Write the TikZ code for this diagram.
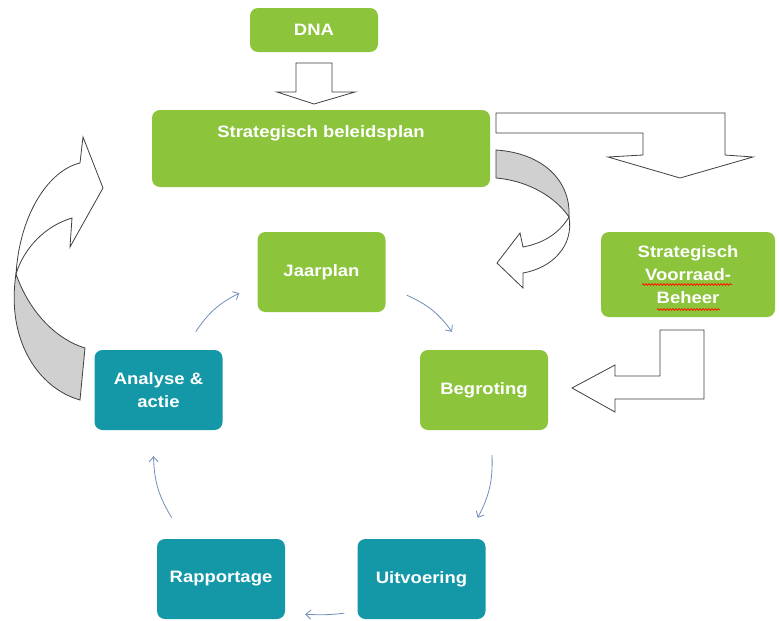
\documentclass[tikz,border=0pt]{standalone}
\usepackage{fontspec}
\setmainfont{Liberation Sans}[FakeStretch=1.12]
\usetikzlibrary{arrows.meta,decorations.pathmorphing}
\definecolor{leaf}{RGB}{140,196,60}
\definecolor{lagoon}{RGB}{20,152,168}
\definecolor{flowblue}{RGB}{112,142,186}
\definecolor{ribbon}{RGB}{208,208,208}
\begin{document}
\begin{tikzpicture}[x=1pt,y=-1pt]
  \clip (0,0) rectangle (779,621);
  \fill[white] (0,0) rectangle (779,621);
  % the boxes
  \begin{scope}[every node/.style={rounded corners=8pt,text=white,align=center,
      font=\fontsize{16.5}{23}\selectfont\bfseries,minimum width=128pt,minimum height=80pt}]
    \node[fill=leaf,minimum height=44pt] (dna) at (314,30) {DNA};
    \node[fill=leaf,minimum width=338pt,minimum height=0pt,inner sep=15pt,
      text height=12pt,text depth=35pt] (plan) at (321,148.5) {Strategisch beleidsplan};
    \node[fill=leaf] (jaar) at (321.5,272) {Jaarplan};
    \node[fill=leaf,minimum width=174pt,minimum height=85pt] (svb) at (688,274.5)
      {Strategisch\\Voorraad-\\Beheer};
    \node[fill=leaf] (beg) at (484,390) {Begroting};
    \node[fill=lagoon] (ana) at (158.5,390) {Analyse \&\\actie};
    \node[fill=lagoon] (rap) at (221,579) {Rapportage};
    \node[fill=lagoon] (uit) at (421.5,579) {Uitvoering};
  \end{scope}
  % spelling marks
  \begin{scope}[every path/.style={draw=red!85!orange,line width=0.8pt,
      decorate,decoration={snake,segment length=3pt,amplitude=0.8pt}}]
    \path (svb.center) ++(-46,10) -- ++(90,0);
    \path (svb.center) ++(-31,35) -- ++(63,0);
  \end{scope}
  % the cycle
  \begin{scope}[every edge/.style={draw=flowblue,line width=0.8pt,
      -{Straight Barb[length=5pt,width=9pt]}}]
    \path ([shift={(-27,-18)}]ana.north east) edge[bend left=15] ([shift={(-18,-19)}]jaar.south west);
    \path ([shift={(21,-17)}]jaar.south east) edge[bend left=15] ([shift={(-32,-18)}]beg.north);
    \path ([shift={(8,25)}]beg.south) edge[bend left=15] ([shift={(-8,-21)}]uit.north east);
    \path ([shift={(-13,-6)}]uit.south west) edge[bend left=5] ([shift={(20,-5)}]rap.south east);
    \path ([shift={(15,-21)}]rap.north west) edge[bend left=15] ([shift={(-5,26)}]ana.south);
  \end{scope}
  % block arrows
  \begin{scope}[every path/.style={draw=black!75,line width=0.8pt,line join=miter}]
    \path[fill=white] (296,63) -- (332,63) -- (332,92) -- (355,92) -- (314,104)
      -- (277,92) -- (296,92) -- cycle;
    \path[fill=white] (496,113) -- (725,113) -- (725,155) -- (753,157) -- (680,178)
      -- (608,157) -- (643,155) -- (643,133) -- (496,133) -- cycle;
    \path[fill=white] (704,330) -- (660,330) -- (660,376) -- (615,376) -- (615,365)
      -- (572,388) -- (615,412) -- (615,399) -- (704,399) -- cycle;
    % curl down to the year plan
    \path[fill=ribbon] (496,150) .. controls (542,153) and (571,180) .. (569,217)
      .. controls (556,198) and (530,181) .. (496,178) -- cycle;
    \path[fill=white] (569,217) .. controls (560,232) and (545,243) .. (523,247)
      -- (520,233) -- (497,263) -- (523,288) -- (523,273)
      .. controls (552,268) and (574,246) .. (569,217) -- cycle;
    % curl up to the policy plan
    \path[fill=ribbon] (16,274) .. controls (30,314) and (58,340) .. (85,348)
      -- (80,400) .. controls (38,388) and (6,340) .. (16,274) -- cycle;
    \path[fill=white] (16,274) .. controls (20,212) and (50,170) .. (80,163)
      -- (83,137) -- (103,188) -- (70,247) -- (72,218)
      .. controls (45,226) and (24,248) .. (16,274) -- cycle;
  \end{scope}
\end{tikzpicture}
\end{document}
